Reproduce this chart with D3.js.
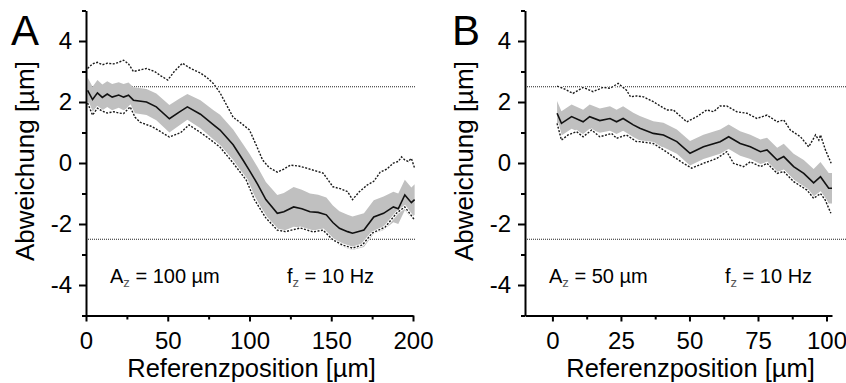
<!DOCTYPE html>
<html>
<head>
<meta charset="utf-8">
<script src="https://cdn.jsdelivr.net/npm/d3@7"></script>
<style>
  body { margin: 0; background: #fff; }
  svg { display: block; font-family: "Liberation Sans", Arial, sans-serif; }
</style>
</head>
<body>
<div id="vis"></div>
<script>
// panel A: mean deviation with spread (band), max and min envelopes
const aMean = [[1,2.38],[4,2.08],[7,2.3],[10,2.15],[13,2.26],[16,2.16],[20,2.23],[23,2.16],[26,2.22],[29,2.06],
  [37,2.0],[43,1.84],[51,1.45],[57,1.67],[62,1.84],[70,1.6],[78,1.25],[82,1.08],[90,0.6],[96,0.1],
  [100,-0.25],[105,-0.7],[110,-1.2],[117,-1.65],[121,-1.6],[127,-1.44],[132,-1.5],[137,-1.6],[142,-1.62],[147,-1.7],
  [151,-1.95],[155,-2.14],[160,-2.25],[163,-2.3],[170,-2.2],[176,-1.77],[182,-1.65],[188,-1.44],[191,-1.5],[195,-1.05],
  [199,-1.3],[201,-1.2]];
const aSd = [0.42,0.42,0.42,0.42,0.42,0.43,0.42,0.43,0.42,0.42,
  0.43,0.44,0.45,0.44,0.42,0.46,0.48,0.5,0.5,0.52,
  0.55,0.56,0.58,0.6,0.62,0.65,0.62,0.6,0.58,0.57,
  0.56,0.56,0.55,0.55,0.55,0.55,0.55,0.5,0.5,0.5,
  0.5,0.5];
const aUpper = [[1,3.1],[4,3.25],[7,3.3],[10,3.22],[13,3.27],[17,3.25],[20,3.3],[23,3.37],[26,3.25],[29,3.0],
  [33,3.05],[37,3.1],[42,3.0],[46,2.85],[50,2.72],[54,3.0],[59,3.27],[64,3.1],[70,2.95],[74,2.8],
  [78,2.6],[82,2.3],[86,1.9],[90,1.5],[95,1.3],[100,1.08],[104,0.6],[108,0.1],[112,-0.15],[117,-0.3],
  [121,-0.2],[125,-0.07],[130,-0.1],[135,-0.17],[140,-0.25],[145,-0.33],[148,-0.55],[151,-0.78],[156,-0.85],[160,-0.94],
  [163,-1.2],[167,-0.95],[172,-0.72],[176,-0.6],[180,-0.3],[184,-0.2],[188,0.0],[191,0.05],[193,0.2],[195,0.1],
  [197,0.05],[199,0.15],[201,-0.17]];
const aLower = [[1,1.97],[4,1.57],[7,1.8],[10,1.7],[13,1.64],[17,1.68],[20,1.64],[23,1.62],[27,1.84],[30,1.5],
  [33,1.34],[40,1.2],[44,1.08],[51,0.85],[58,1.0],[63,1.25],[70,1.0],[74,0.85],[82,0.52],[90,0.0],
  [98,-0.56],[103,-1.2],[110,-1.8],[117,-2.2],[122,-2.25],[131,-2.13],[139,-2.26],[145,-2.2],[151,-2.52],[157,-2.69],
  [163,-2.79],[169,-2.69],[175,-2.3],[183,-2.1],[190,-1.64],[195,-1.44],[201,-1.87]];

// panel B
const bMean = [[1.7,1.63],[3.3,1.3],[7,1.52],[11.2,1.35],[13.6,1.52],[17.3,1.39],[21,1.46],[23.4,1.35],[25.8,1.46],[29.5,1.25],
  [31.9,1.14],[36.8,0.97],[40.5,0.92],[45.4,0.7],[50.2,0.32],[55.1,0.53],[61.2,0.7],[64.3,0.86],[68.5,0.64],[72.2,0.53],
  [75.9,0.37],[78.3,0.43],[82,0.1],[84.4,0.21],[88,-0.12],[91.7,-0.34],[95.3,-0.65],[97.8,-0.45],[100.8,-0.83],[102,-0.83]];
const bSd = [0.4,0.4,0.4,0.4,0.4,0.4,0.4,0.4,0.4,0.4,
  0.4,0.4,0.4,0.4,0.4,0.4,0.4,0.4,0.4,0.4,
  0.4,0.4,0.4,0.42,0.42,0.44,0.45,0.48,0.5,0.5];
const bUpper = [[1.7,2.52],[3.9,2.45],[7.5,2.28],[11.2,2.48],[14.8,2.34],[18.5,2.48],[21,2.45],[24,2.61],[27,2.39],[28.5,2.17],
  [30.7,2.2],[33.2,2.17],[36.8,2.01],[41.7,1.74],[44.1,1.74],[49,1.35],[52.7,1.52],[56.3,1.74],[58.8,1.68],[61.2,1.87],
  [63.6,1.87],[67.3,1.68],[71,1.63],[74.6,1.46],[78.3,1.57],[82,1.35],[84.4,1.41],[86.8,1.08],[90.5,0.86],[93.5,0.53],
  [96,0.92],[97.2,0.75],[97.8,0.92],[99.6,0.43],[101.7,-0.01]];
const bLower = [[1.7,1.3],[3.3,0.75],[5.7,0.92],[8.8,1.03],[11.2,0.86],[14.3,1.08],[17.3,0.86],[21.6,0.97],[23.4,0.81],[27,0.92],
  [30.7,0.7],[31.9,0.7],[36.8,0.64],[40.5,0.43],[44.1,0.21],[47.8,-0.01],[50.8,-0.17],[55.1,-0.01],[60,0.15],[63.6,0.37],
  [66.1,-0.01],[69.7,-0.12],[72.2,0.04],[75.9,-0.12],[78.3,-0.01],[82,-0.34],[84.4,-0.28],[88,-0.61],[92.9,-0.89],[95.3,-1.16],
  [97.8,-1.0],[99.5,-1.21],[101.6,-1.65]];

const yTicks = [-4, -2, 0, 2, 4];
const yMinor = [-5, -3, -1, 1, 3, 5];
const aTicks = [0, 50, 100, 150, 200];
const aMinor = [25, 75, 125, 175];
const bTicks = [0, 25, 50, 75, 100];
const bMinor = [12.5, 37.5, 62.5, 87.5];
const limits = [2.5, -2.5];

const width = 846, height = 383;
const svg = d3.select('#vis').append('svg').attr('width', width).attr('height', height);

const y = d3.scaleLinear().domain([-5, 5]).range([315.5, 10.5]);

function panel(opt) {
  const x = d3.scaleLinear().domain(opt.xDomain).range(opt.xRange);
  const g = svg.append('g');

  // horizontal limit lines
  g.selectAll('.lim').data(limits).enter().append('line')
    .attr('x1', opt.xRange[0]).attr('x2', opt.limEnd)
    .attr('y1', d => y(d)).attr('y2', d => y(d))
    .attr('stroke', '#222').attr('stroke-width', 1).attr('stroke-dasharray', '1,1');

  const band = d3.area()
    .x(d => x(d[0]))
    .y0((d, i) => y(d[1] - opt.sd[i]))
    .y1((d, i) => y(d[1] + opt.sd[i]));
  g.append('path').datum(opt.mean).attr('d', band).attr('fill', '#c0c0c0');

  const line = d3.line().x(d => x(d[0])).y(d => y(d[1]));
  [opt.upper, opt.lower].forEach(s => {
    g.append('path').datum(s).attr('d', line).attr('fill', 'none')
      .attr('stroke', '#fff').attr('stroke-width', 3);
    g.append('path').datum(s).attr('d', line).attr('fill', 'none')
      .attr('stroke', '#1a1a1a').attr('stroke-width', 1.4).attr('stroke-dasharray', '2,1.5');
  });
  g.append('path').datum(opt.mean).attr('d', line).attr('fill', 'none')
    .attr('stroke', '#111').attr('stroke-width', 1.6);

  // axes
  const xAxis = g.append('g').attr('transform', `translate(0,${y(-5)})`)
    .call(d3.axisBottom(x).tickValues(opt.ticks).tickSize(6).tickSizeOuter(0).tickPadding(10).tickFormat(d => String(d)));
  const xMinor = g.append('g').attr('transform', `translate(0,${y(-5)})`)
    .call(d3.axisBottom(x).tickValues(opt.minor).tickSize(4).tickSizeOuter(0).tickFormat(''));
  xMinor.select('.domain').remove();
  const yAxis = g.append('g').attr('transform', `translate(${opt.xRange[0]},0)`)
    .call(d3.axisLeft(y).tickValues(yTicks).tickSize(7).tickSizeOuter(0).tickPadding(7).tickFormat(d => String(d)));
  const yMin = g.append('g').attr('transform', `translate(${opt.xRange[0]},0)`)
    .call(d3.axisLeft(y).tickValues(yMinor).tickSize(4).tickSizeOuter(0).tickFormat(''));
  yMin.select('.domain').remove();
  [xAxis, xMinor, yAxis, yMin].forEach(a => {
    a.selectAll('path, line').attr('stroke', '#000').attr('stroke-width', 2);
    a.selectAll('text').attr('font-size', '24px').attr('fill', '#000')
      .attr('font-family', '"Liberation Sans", Arial, sans-serif');
  });

  // titles
  g.append('text')
    .attr('x', (opt.xRange[0] + opt.xRange[1]) / 2 + opt.xLabelShift).attr('y', 377)
    .attr('text-anchor', 'middle').attr('font-size', '25.5px').text('Referenzposition [µm]');
  g.append('text')
    .attr('transform', `translate(${opt.xRange[0] - 52},${y(0) - 2}) rotate(-90)`)
    .attr('text-anchor', 'middle').attr('font-size', '26px').text('Abweichung [µm]');
  g.append('text').attr('x', opt.letterX).attr('y', 45).attr('font-size', '42px').text(opt.letter);

  // annotations
  const ann = (xp, main, rest) => {
    const t = g.append('text').attr('x', xp).attr('y', 283).attr('font-size', '20px');
    t.append('tspan').text(main);
    t.append('tspan').attr('dy', 4).attr('font-size', '13px').attr('fill', '#555').text('z');
    t.append('tspan').attr('dy', -4).text(rest);
  };
  ann(opt.ann1, 'A', ' = ' + opt.amp + ' µm');
  ann(opt.ann2, 'f', ' = 10 Hz');
}

panel({ xDomain: [0, 200], xRange: [86, 413], limEnd: 415, mean: aMean, sd: aSd, upper: aUpper, lower: aLower,
  ticks: aTicks, minor: aMinor, letter: 'A', letterX: 11, ann1: 110, ann2: 287, amp: 100, xLabelShift: 2 });
panel({ xDomain: [-10, 102], xRange: [525, 832], limEnd: 846, mean: bMean, sd: bSd, upper: bUpper, lower: bLower,
  ticks: bTicks, minor: bMinor, letter: 'B', letterX: 452, ann1: 549, ann2: 725, amp: 50, xLabelShift: 12 });
</script>
</body>
</html>
